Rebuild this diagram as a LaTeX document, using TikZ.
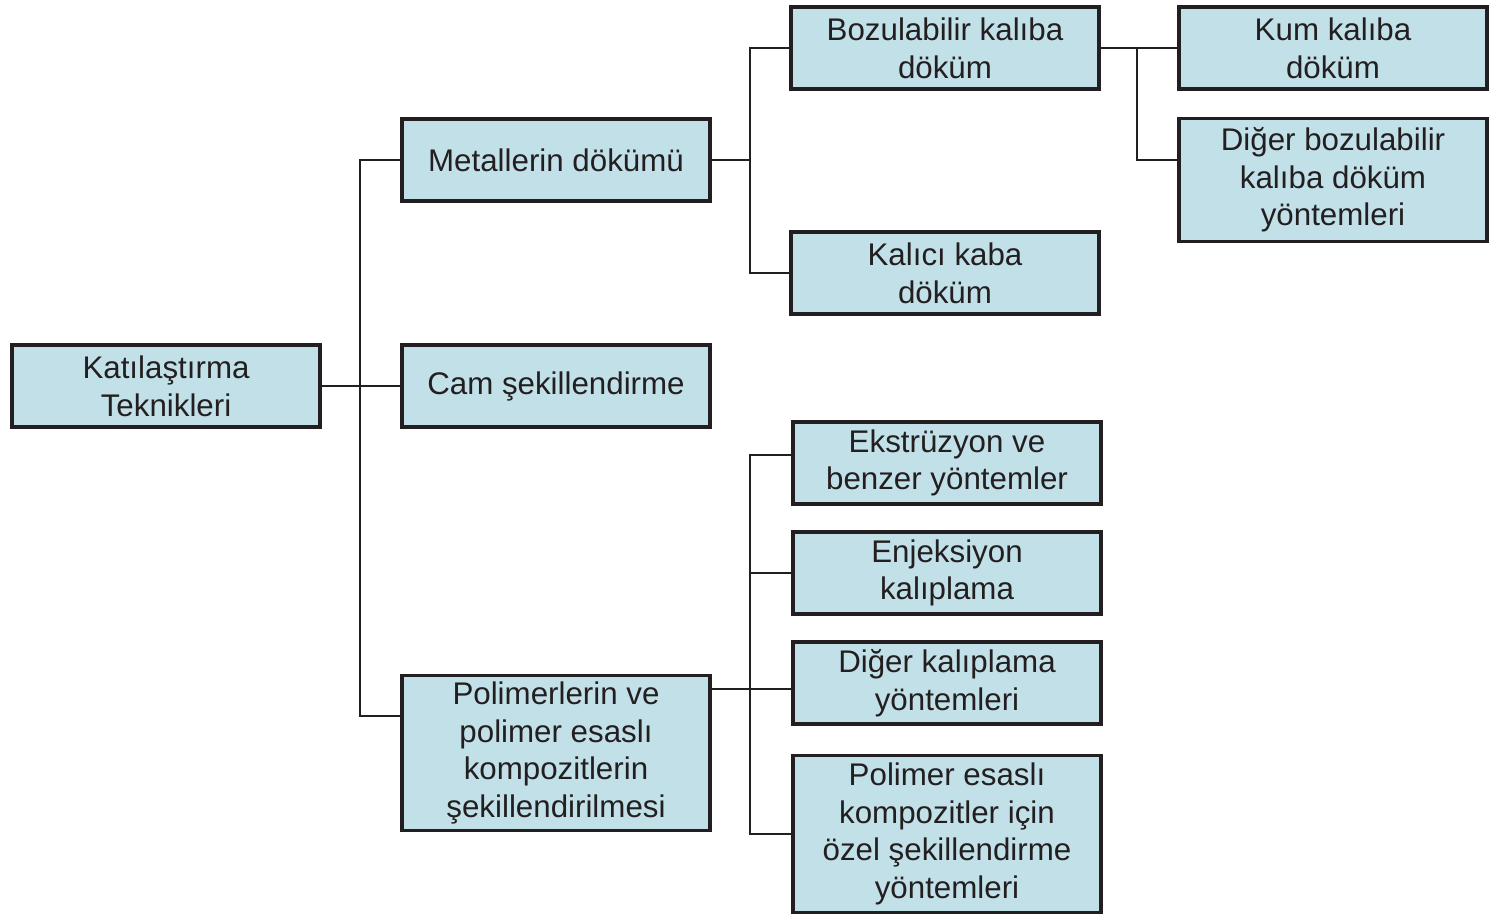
\documentclass[tikz,border=0pt]{standalone}
\usepackage{fontspec}
\setmainfont{Liberation Sans}
\usetikzlibrary{positioning,calc}
\definecolor{boxblue}{RGB}{194,224,232}
\definecolor{boxline}{RGB}{35,31,32}

\begin{document}
\begin{tikzpicture}[
    x=0.01cm, y=-0.01cm,
    every node/.style={font=\fontsize{8.9}{10.7}\selectfont, text=boxline},
    block/.style={rectangle, draw=boxline, line width=1pt, fill=boxblue, minimum width=3.08cm, minimum height=0.82cm, align=center, inner sep=0pt},
    link/.style={draw=boxline, line width=0.45pt}
  ]
  \useasboundingbox (0,0) rectangle (1491,917);

  % Nodes
  \node [block] (kat) at (166,386) {Katılaştırma\\Teknikleri};
  \node [block] (met) at (556,160) {Metallerin dökümü};
  \node [block] (cam) at (556,386) {Cam şekillendirme};
  \node [block, minimum height=1.55cm] (pol) at (556,753) {Polimerlerin ve\\polimer esaslı\\kompozitlerin\\şekillendirilmesi};
  \node [block] (boz) at (945,48) {Bozulabilir kalıba\\döküm};
  \node [block] (kal) at (945,273) {Kalıcı kaba\\döküm};
  \node [block] (eks) at (947,463) {Ekstrüzyon ve\\benzer yöntemler};
  \node [block] (enj) at (947,573) {Enjeksiyon\\kalıplama};
  \node [block] (dkal) at (947,683) {Diğer kalıplama\\yöntemleri};
  \node [block, minimum height=1.57cm] (pes) at (947,834) {Polimer esaslı\\kompozitler için\\özel şekillendirme\\yöntemleri};
  \node [block] (kum) at (1333,48) {Kum kalıba\\döküm};
  \node [block, minimum height=1.23cm] (dboz) at (1333,180) {Diğer bozulabilir\\kalıba döküm\\yöntemleri};

  % Joints
  \coordinate (j1) at (360,386);
  \coordinate (j2) at (750,161);
  \coordinate (j3) at (750,689);
  \coordinate (j4) at (1137,48);
  \coordinate (pe) at ([yshift=0.64cm]pol.east);

  % Lines
  \draw [link] (kat) -- (cam);
  \draw [link] (met.west) -| (j1) |- ([yshift=0.37cm]pol.west);
  \draw [link] (met.east) -- (met.east -| j2);
  \draw [link] (boz.west) -| (j2) |- (kal.west);
  \draw [link] (pe) -- (pe -| dkal.west);
  \draw [link] ([yshift=0.08cm]eks.west) -| (j3) |- (pes.west);
  \draw [link] (enj.west) -- (enj.west -| j3);
  \draw [link] (boz) -- (kum);
  \draw [link] (j4) |- ([yshift=0.2cm]dboz.west);

\end{tikzpicture}
\end{document}
